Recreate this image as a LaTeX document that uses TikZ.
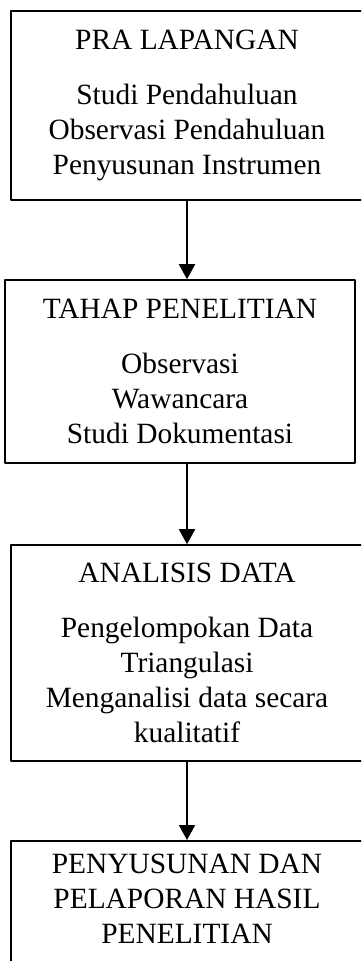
\documentclass[tikz,border=0pt]{standalone}
\usepackage{fontspec}
\setmainfont{Liberation Serif}
\usetikzlibrary{arrows.meta}
\begin{document}
\begin{tikzpicture}[x=0.5pt, y=-0.5pt, line join=round,
    box/.style={draw, line width=0.8pt, minimum width=175pt, align=center, inner sep=0pt,
        font=\fontsize{14.7pt}{17.5pt}\selectfont},
    wide/.style={minimum width=176pt},
    arr/.style={line width=1pt, -{Triangle[width=8pt, length=7.5pt]}}]
    \useasboundingbox (0,0) rectangle (361,961);
    \clip (0,0) rectangle (361,961);
    % boxes
    \node[box, wide, minimum height=94.5pt] (pra) at (187,105.5)
        {PRA LAPANGAN\\[10pt]Studi Pendahuluan\\Observasi Pendahuluan\\Penyusunan Instrumen};
    \node[box, minimum height=91.5pt] (tahap) at (180,371.5)
        {TAHAP PENELITIAN\\[10pt]Observasi\\Wawancara\\Studi Dokumentasi};
    \node[box, wide, minimum height=108pt] (analisis) at (187,653)
        {ANALISIS DATA\\[10pt]Pengelompokan Data\\Triangulasi\\Menganalisi data secara\\kualitatif};
    \node[box, wide, anchor=north, inner ysep=6.5pt, text depth=60pt] (hasil) at (187,840)
        {PENYUSUNAN DAN\\PELAPORAN HASIL\\PENELITIAN};
    % arrows
    \draw[arr] (pra.south) -- (pra.south |- tahap.north);
    \draw[arr] (analisis.north |- tahap.south) -- (analisis.north);
    \draw[arr] (analisis.south) -- (hasil.north);
\end{tikzpicture}
\end{document}
